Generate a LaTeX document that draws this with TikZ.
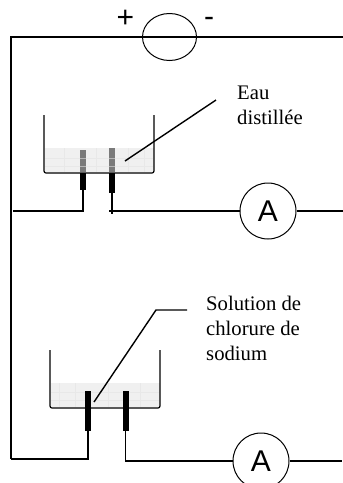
\documentclass[tikz,border=0pt]{standalone}
\usepackage{fontspec}
\setmainfont{Liberation Serif}
\newfontfamily\arialfont{Liberation Sans}
\tikzset{
  wire/.style={line width=1.4pt,black},
  thin wire/.style={line width=1.3pt,black},
  beaker/.style={line width=1.2pt,black,rounded corners=2pt},
  water/.style={fill=black!6,draw=none},
  blackel/.style={fill=black,draw=none},
  greyel/.style={fill=black!52,draw=none},
  meter/.style={circle,draw=black,line width=1pt,minimum size=56pt,inner sep=0pt,font=\arialfont\fontsize{30}{30}\selectfont},
  source/.style={ellipse,draw=black,line width=1pt,minimum width=54pt,minimum height=47pt,inner sep=0pt},
  lbl/.style={anchor=base west,inner sep=0pt,font=\fontsize{20.7}{24}\selectfont},
  sign/.style={anchor=base,inner sep=0pt,font=\arialfont\fontsize{30}{30}\selectfont}
}
\usetikzlibrary{shapes.geometric}
\begin{document}
\begin{tikzpicture}[x=1pt,y=-1pt]
\useasboundingbox (0,0) rectangle (343,483);
\clip (0,0) rectangle (343,483);
% water beaker 1
\fill[water] (44.5,148) rectangle (153.5,172);
\draw[black!9,line width=0.3pt] (45,158) -- (153,158) (45,166) -- (153,166)
  (64,148) -- (64,172) (96,148) -- (96,172) (128,148) -- (128,172) (144,148) -- (144,172);
% water beaker 2
\fill[water] (50.5,383) rectangle (159.5,407);
\draw[black!9,line width=0.3pt] (51,392) -- (159,392) (51,400) -- (159,400)
  (59,383) -- (59,407) (75,383) -- (75,407) (108,383) -- (108,407) (140,383) -- (140,407);
% source and main wires
\node[source] (bat) at (169.5,37) {};
\coordinate (tl) at (10,37);
\coordinate (tr) at (343,37);
\coordinate (bl) at (11,38);
\coordinate (blb) at (11,459);
\draw[wire] (tl) -- (tr);
\draw[wire] (bl) -- (blb);
\node[sign] (plus) at (125.5,27) {+};
\node[sign] (minus) at (209,26.5) {-};
% beaker 1
\coordinate (a1) at (44,115); \coordinate (a2) at (44,173);
\coordinate (a3) at (154,173); \coordinate (a4) at (154,115);
\draw[beaker] (a1) -- (a2) -- (a3) -- (a4);
\node[greyel,minimum width=5.5pt,minimum height=22pt,inner sep=0pt] (g1) at (83,161) {};
\node[greyel,minimum width=6.5pt,minimum height=24pt,inner sep=0pt] (g2) at (112,160) {};
\draw[white,opacity=.45,line width=.5pt] (80,158.5) -- (86,158.5) (80,166) -- (86,166) (109,158.5) -- (115,158.5) (109,166) -- (115,166);
\node[blackel,minimum width=5.5pt,minimum height=17pt,inner sep=0pt] (e1) at (83,181.5) {};
\node[blackel,minimum width=6pt,minimum height=20pt,inner sep=0pt] (e2) at (112,183) {};
\node[meter] (am1) at (268,211) {A};
\coordinate (w1l) at (13,211);
\coordinate (w2e) at (112,214);
\coordinate (w2s) at (109,211);
\coordinate (am1r) at (343,211);
\draw[thin wire] (e1.south) |- (w1l);
\draw[thin wire] (e2.south) -- (w2e);
\draw[thin wire] (w2s) -- (am1.west);
\draw[thin wire] (am1.east) -- (am1r);
% beaker 2
\coordinate (b1) at (50,350); \coordinate (b2) at (50,408);
\coordinate (b3) at (160,408); \coordinate (b4) at (160,350);
\draw[beaker] (b1) -- (b2) -- (b3) -- (b4);
\node[blackel,minimum width=6pt,minimum height=40pt,inner sep=0pt] (e3) at (88,411) {};
\node[blackel,minimum width=6pt,minimum height=40pt,inner sep=0pt] (e4) at (125.5,411) {};
\node[meter] (am2) at (261,461) {A};
\coordinate (am2r) at (342,461);
\draw[thin wire] (e3.south) |- (blb);
\draw[thin wire] (e4.south) |- (am2.west);
\draw[thin wire] (am2.east) -- (am2r);
% labels
\node[lbl] (t1) at (237,99) {Eau};
\node[lbl] (t2) at (237,124.5) {distillée};
\node[lbl] (t3) at (206,310) {Solution de};
\node[lbl] (t4) at (206,335) {chlorure de};
\node[lbl] (t5) at (206,360) {sodium};
% pointers
\coordinate (p1) at (125,161);
\coordinate (p2) at (216,100);
\coordinate (p3) at (94,402);
\coordinate (p4) at (156,310);
\coordinate (p5) at (187,310);
\draw[wire] (p1) -- (p2);
\draw[wire] (p3) -- (p4) -- (p5);
\end{tikzpicture}
\end{document}
